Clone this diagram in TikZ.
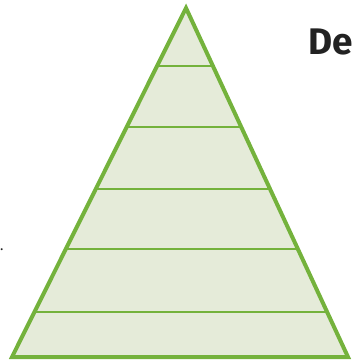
\documentclass[tikz,border=0pt]{standalone}
\usepackage{fontspec}
\setmainfont{Fira Sans}
\usepackage{tikz}
\usetikzlibrary{calc}
\definecolor{leafgreen}{HTML}{74B23C}
\definecolor{palefill}{HTML}{E5EBD9}
\definecolor{inkgray}{HTML}{222222}
\begin{document}
\begin{tikzpicture}[x=1pt,y=-1pt]
\useasboundingbox (0,0) rectangle (352,364);
\clip (0,0) rectangle (352,364);
\coordinate (top) at (186,8);
\coordinate (bl) at (12,357);
\coordinate (br) at (348,357);
\draw[leafgreen,fill=palefill,line width=4pt,line join=miter] (top)--(bl)--(br)--cycle;
\foreach \t in {0.166,0.341,0.519,0.691,0.871}{
\draw[leafgreen,line width=2.6pt] ($(top)!\t!(bl)$)--($(top)!\t!(br)$);
}
\node[anchor=base west,inner sep=0pt,text=inkgray,font=\fontsize{37}{37}\selectfont\bfseries] at (308,54) (label){De};
\node[anchor=base west,inner sep=0pt,text=inkgray,font=\fontsize{14}{14}\selectfont] at (0,250) (dot){.};
\end{tikzpicture}
\end{document}
